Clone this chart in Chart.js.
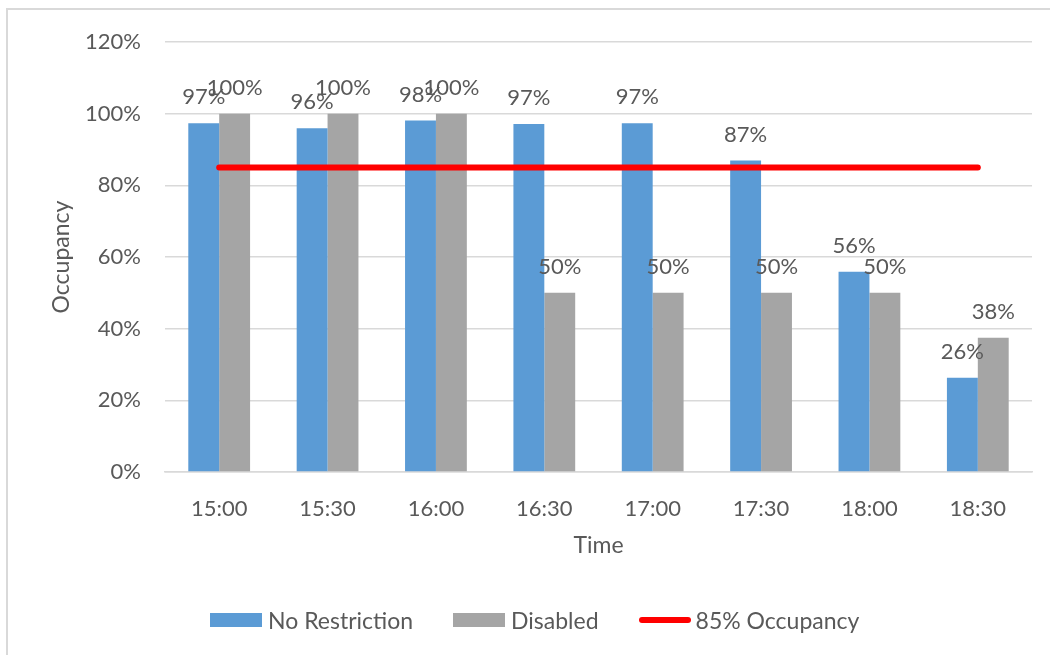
<!DOCTYPE html>
<html>
<head>
<meta charset="utf-8">
<script src="https://cdn.jsdelivr.net/npm/chart.js@4.4.1/dist/chart.umd.min.js"></script>
<style>
  body { margin: 0; background: #fff; font-family: Lato, sans-serif; }
  #wrap { position: relative; width: 1050px; height: 655px; overflow: hidden; }
  #frame { position: absolute; left: 6px; top: 8px; width: 1100px; height: 700px;
           border-left: 2px solid #d9d9d9; border-top: 2px solid #d9d9d9; }
  #legend { position: absolute; left: 210px; top: 606px; display: flex; align-items: center;
            font-size: 23px; color: #595959; }
  .item { display: flex; align-items: center; margin-right: 40px; }
  .box { width: 52px; height: 14px; margin-right: 6px; }
  .ln { width: 52px; height: 6px; border-radius: 3px; margin-right: 5px; }
</style>
</head>
<body>
<div id="wrap">
  <div id="frame"></div>
  <canvas id="c" width="1050" height="655" style="position:absolute;left:0;top:0"></canvas>
  <div id="legend"></div>
</div>
<script>
const times = ["15:00", "15:30", "16:00", "16:30", "17:00", "17:30", "18:00", "18:30"];
const noRestriction = [97.3, 95.9, 98.1, 97.1, 97.3, 86.9, 55.9, 26.3];
const disabled = [100, 100, 100, 50, 50, 50, 50, 37.5];
const target = [85, 85, 85, 85, 85, 85, 85, 85];
const yTicks = [0, 20, 40, 60, 80, 100, 120];

const blue = "#5b9bd5", grey = "#a5a5a5", red = "#ff0000", txt = "#595959";

// labels above the bars, like excel does
const barLabels = {
  id: "barLabels",
  afterDatasetsDraw(chart) {
    const ctx = chart.ctx;
    ctx.save();
    ctx.font = "22px Lato";
    ctx.fillStyle = txt;
    ctx.textAlign = "center";
    ctx.textBaseline = "middle";
    chart.data.datasets.forEach((ds, i) => {
      if (ds.type !== "bar") return;
      chart.getDatasetMeta(i).data.forEach((bar, j) => {
        ctx.fillText(Math.round(ds.data[j]) + "%", bar.x, bar.y - 26);
      });
    });
    ctx.restore();
  }
};

new Chart(document.getElementById("c"), {
  data: {
    labels: times,
    datasets: [
      { type: "line", label: "85% Occupancy", data: target, borderColor: red, borderWidth: 6,
        borderCapStyle: "round", pointRadius: 0, order: 0 },
      { type: "bar", label: "No Restriction", data: noRestriction, backgroundColor: blue, order: 1 },
      { type: "bar", label: "Disabled", data: disabled, backgroundColor: grey, order: 1 }
    ]
  },
  options: {
    responsive: false,
    animation: false,
    layout: { padding: { left: 0, top: 42, right: 18, bottom: 93 } },
    datasets: { bar: { categoryPercentage: 0.57, barPercentage: 1 } },
    plugins: { legend: { display: false }, tooltip: { enabled: false } },
    scales: {
      x: {
        grid: { display: false },
        border: { color: "#d9d9d9", width: 1.5 },
        ticks: { color: txt, font: { family: "Lato", size: 22 }, padding: 16 },
        title: { display: true, text: "Time", color: txt, font: { family: "Lato", size: 23 },
                 padding: { top: 0, bottom: 3 } },
        afterFit: s => { s.height = 90; }
      },
      y: {
        min: 0, max: 120,
        afterBuildTicks: s => { s.ticks = yTicks.map(v => ({ value: v })); },
        grid: { color: "#d9d9d9", lineWidth: 1.5, drawTicks: false },
        border: { display: false },
        ticks: { color: txt, font: { family: "Lato", size: 22 }, padding: 24,
                 callback: v => v + "%" },
        title: { display: true, text: "Occupancy", color: txt, font: { family: "Lato", size: 23 },
                 padding: { top: 48, bottom: 0 } },
        afterFit: s => { s.width = 165; }
      }
    }
  },
  plugins: [barLabels]
});

const legendItems = [
  { label: "No Restriction", color: blue, kind: "box" },
  { label: "Disabled", color: grey, kind: "box" },
  { label: "85% Occupancy", color: red, kind: "ln" }
];
document.getElementById("legend").innerHTML = legendItems.map(it =>
  `<div class="item"><div class="${it.kind}" style="background:${it.color}"></div>${it.label}</div>`
).join("");
</script>
</body>
</html>
